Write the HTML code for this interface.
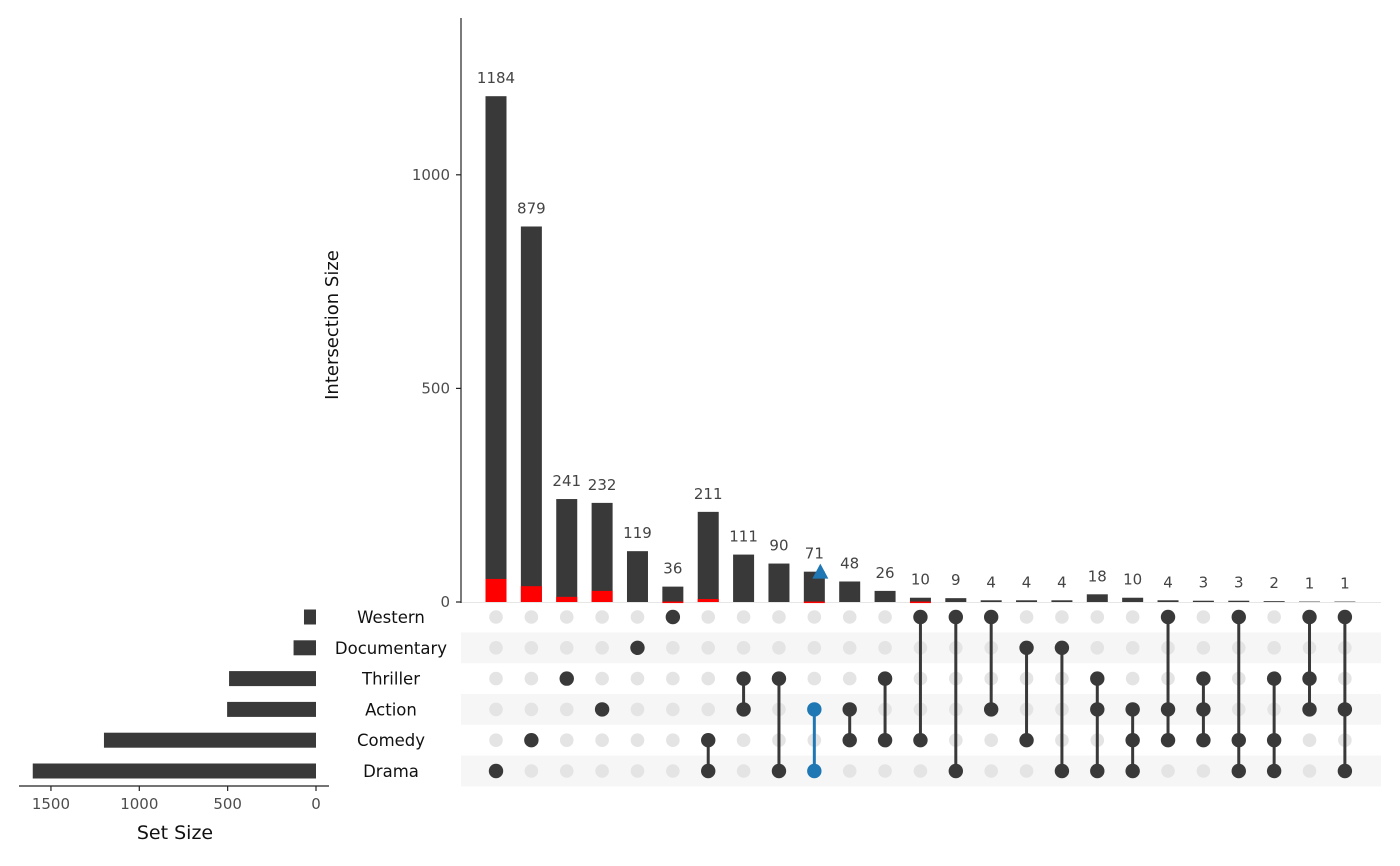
<!DOCTYPE html>
<html><head><meta charset="utf-8"><style>
html,body{margin:0;padding:0;background:#fff;}
svg{display:block;font-family:"DejaVu Sans","Liberation Sans",sans-serif;}
</style></head><body>
<svg id="chart" width="1400" height="866" viewBox="0 0 1400 866"></svg>
<script>
const sets = ["Western","Documentary","Thriller","Action","Comedy","Drama"];
const setSizes = [68,127,492,503,1200,1603];
const counts = [1184,879,241,232,119,36,211,111,90,71,48,26,10,9,4,4,4,18,10,4,3,3,2,1,1];
const redCounts = [54,37,12,26,0,1,7,0,0,1,0,0,1,0,0,0,0,0,0,0,0,0,0,0,0];
const members = [[5],[4],[2],[3],[1],[0],[4,5],[2,3],[2,5],[3,5],[3,4],[2,4],[0,4],[0,5],[0,3],[1,4],[1,5],[2,3,5],[3,4,5],[0,3,4],[2,3,4],[0,4,5],[2,4,5],[0,2,3],[0,3,5]];
const highlightCol = 9;
const yTicks = [0,500,1000];
const xTicks = [0,500,1000,1500];

const NS="http://www.w3.org/2000/svg";
const svg=document.getElementById('chart');
function mk(tag,attrs,parent){const e=document.createElementNS(NS,tag);for(const k in attrs)e.setAttribute(k,attrs[k]);(parent||svg).appendChild(e);return e;}
const colX=i=>496+i*35.37;
const yS=v=>602-v*0.4272;
const rowY=r=>617+r*30.8;
const xS=v=>316-v*0.1767;

[1,3,5].forEach(r=>{
  const s=mk('rect',{x:461,y:rowY(r)-15.4,width:920,height:30.8,fill:'#f6f6f6'});
  
  
});
const bl=mk('line',{x1:461,x2:1381,y1:602.5,y2:602.5,stroke:'#e6e6e6','stroke-width':1});


const ya=mk('line',{x1:461,x2:461,y1:18,y2:603,stroke:'#222','stroke-width':1.2});


yTicks.forEach(t=>{
  mk('line',{x1:456,x2:461,y1:yS(t),y2:yS(t),stroke:'#222','stroke-width':1.2});
  const tx=mk('text',{x:450,y:yS(t)+5,'text-anchor':'end','font-size':15,fill:'#4d4d4d'});
  tx.textContent=t;
  
  
});
const yt=mk('text',{x:0,y:0,transform:'translate(338,325) rotate(-90)','text-anchor':'middle','font-size':18,fill:'#111'});
yt.textContent='Intersection Size';



counts.forEach((c,i)=>{
  const x=colX(i)-10.5;
  const b=mk('rect',{x:x,y:yS(c),width:21,height:602-yS(c),fill:'#393939'});
  
  
  if(redCounts[i]>0){
    const r=mk('rect',{x:x,y:yS(redCounts[i]),width:21,height:Math.max(602-yS(redCounts[i]),1.5),fill:'#ff0000'});
    
    
  }
  const t=mk('text',{x:colX(i),y:yS(c)-13,'text-anchor':'middle','font-size':15,fill:'#444'});
  t.textContent=c;
  
  
});
{
  const cx=colX(highlightCol)+6, cy=yS(counts[highlightCol]);
  const tr=mk('polygon',{points:`${cx-8},${cy+7} ${cx+8},${cy+7} ${cx},${cy-8}`,fill:'#1f77b4'});
  
  
}

members.forEach((m,i)=>{
  const col=i===highlightCol?'#1f77b4':'#393939';
  for(let r=0;r<6;r++){
    if(!m.includes(r)){
      const d=mk('circle',{cx:colX(i),cy:rowY(r),r:6.8,fill:'#e4e4e4'});
      
      
    }
  }
  if(m.length>1){
    const l=mk('line',{x1:colX(i),x2:colX(i),y1:rowY(Math.min(...m)),y2:rowY(Math.max(...m)),stroke:col,'stroke-width':3});
    
    
  }
  m.forEach(r=>{
    const d=mk('circle',{cx:colX(i),cy:rowY(r),r:7.2,fill:col});
    
    
  });
});

sets.forEach((s,r)=>{
  const t=mk('text',{x:391,y:rowY(r)+6,'text-anchor':'middle','font-size':16.5,fill:'#111'});
  t.textContent=s;
  
  
  const b=mk('rect',{x:xS(setSizes[r]),y:rowY(r)-7.5,width:316-xS(setSizes[r]),height:15,fill:'#393939'});
  
  
});
const xa=mk('line',{x1:19,x2:329,y1:786,y2:786,stroke:'#222','stroke-width':1.2});


xTicks.forEach(t=>{
  mk('line',{x1:xS(t),x2:xS(t),y1:786,y2:791,stroke:'#222','stroke-width':1.2});
  const tx=mk('text',{x:xS(t),y:809,'text-anchor':'middle','font-size':15,fill:'#4d4d4d'});
  tx.textContent=t;
  
  
});
const xt=mk('text',{x:175,y:839,'text-anchor':'middle','font-size':19,fill:'#111'});
xt.textContent='Set Size';


</script>
</body></html>
